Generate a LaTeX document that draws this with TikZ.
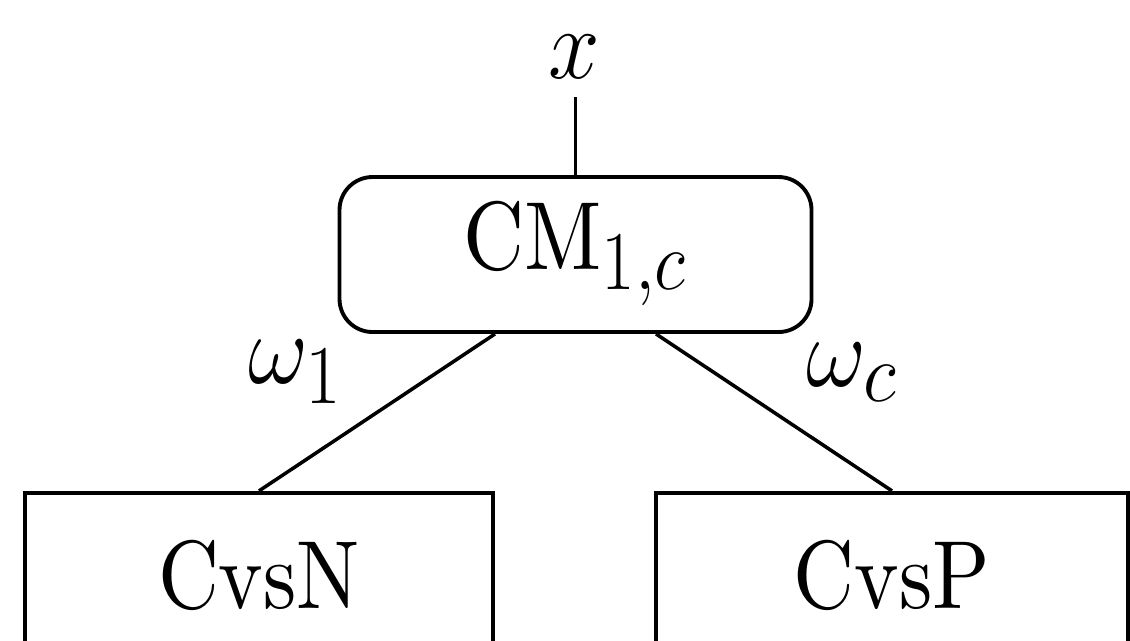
\documentclass[tikz,border=0pt]{standalone}
\usepackage{graphicx}
\usetikzlibrary{calc}
\font\bigrm=cmr10 at 24pt
\newcommand\tallt[1]{\scalebox{1}[1.148]{#1}}
\newcommand\tallm[1]{\scalebox{1.06}[1.148]{#1}}
\tikzset{
  bigfont/.style={font=\Huge},
  roundbox/.style={draw, line width=1.1pt, rounded corners=0.33cm, bigfont},
  leafbox/.style={draw, line width=1.2pt, bigfont},
  conn/.style={draw, line width=1pt},
  lbl/.style={bigfont, inner sep=0pt}
}
\begin{document}
\begin{tikzpicture}
\useasboundingbox (0,0) rectangle (11.3,-6.4);
\clip (0,0) rectangle (11.3,-6.4);
\node[roundbox, minimum width=4.72cm, minimum height=1.55cm] (cm) at (5.755,-2.545) {\tallt{{\bigrm CM}$_{1,c}$}};
\node[leafbox, minimum width=4.68cm, minimum height=1.64cm] (n) at (2.59,-5.75) {\tallt{\bigrm CvsN}};
\node[leafbox, minimum width=4.72cm, minimum height=1.64cm] (p) at (8.92,-5.75) {\tallt{\bigrm CvsP}};
\node[lbl] (xl) at (5.74,-0.565) {\tallm{$x$}};
\coordinate (xtop) at (5.755,-0.97);
\node[lbl] (w1) at (2.955,-3.72) {\tallm{$\omega_1$}};
\node[lbl] (wc) at (8.52,-3.72) {\tallm{$\omega_c$}};
\draw[conn] (xtop) -- (cm.north);
\draw[conn] ($(cm.south)+(-0.805,0)$) -- (n.north);
\draw[conn] ($(cm.south)+(0.805,0)$) -- (p.north);
\end{tikzpicture}
\end{document}
